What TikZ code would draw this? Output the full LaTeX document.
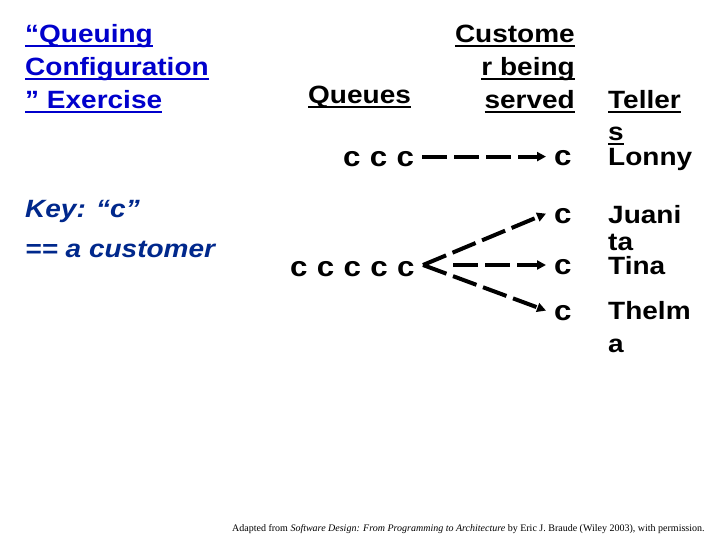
\documentclass[tikz,border=0pt]{standalone}
\usepackage{fontspec}
\setmainfont{Liberation Sans}[FakeStretch=1.12]
\newfontfamily\serifft{Liberation Serif}
\usetikzlibrary{arrows.meta}
\definecolor{titleblue}{RGB}{0,0,204}
\definecolor{keyblue}{RGB}{0,40,140}
\newsavebox\ulbox
\newcommand\ul[1]{\sbox\ulbox{#1}\rlap{\rule[-4.3pt]{\wd\ulbox}{2pt}}\usebox\ulbox}
\newcommand\cgap{\hspace{9.3pt}}
\tikzset{
  hd/.style={inner sep=0pt, anchor=base west, font=\fontsize{25}{30}\selectfont\bfseries},
  hdr/.style={hd, anchor=base east},
  ttl/.style={hd, text=titleblue},
  keyt/.style={hd, text=keyblue, font=\fontsize{25}{30}\selectfont\bfseries\itshape},
  cust/.style={inner sep=0pt, anchor=base west, font=\fontsize{28}{30}\selectfont\bfseries},
  arr/.style={line width=4pt, dash pattern=on 25pt off 7pt, -{Triangle[length=9pt,width=9pt]}},
}
\begin{document}
\begin{tikzpicture}[x=1pt,y=-1pt]
\useasboundingbox[fill=white] (0,0) rectangle (720,540);
% title
\node[ttl] (t1) at (25,43) {\ul{“Queuing}};
\node[ttl] (t2) at (25,76) {\ul{Configuration}};
\node[ttl] (t3) at (25,109) {\ul{” Exercise}};
% key
\node[keyt] (k1) at (25,218) {Key: “c”};
\node[keyt] (k2) at (25,257) {== a customer};
% headings
\node[hd] (qh) at (308,104) {\ul{Queues}};
\node[hdr] (ch1) at (575,43) {\ul{Custome}};
\node[hdr] (ch2) at (575,76) {\ul{r being}};
\node[hdr] (ch3) at (575,109) {\ul{served}};
\node[hd] (th1) at (608,109) {\ul{Teller}};
\node[hd] (th2) at (608,141) {\ul{s}};
% tellers
\node[hd] (n1) at (608,166) {Lonny};
\node[hd] (n2) at (608,224) {Juani};
\node[hd] (n3) at (608,250) {ta};
\node[hd] (n4) at (608,274) {Tina};
\node[hd] (n5) at (608,319) {Thelm};
\node[hd] (n6) at (608,352) {a};
% customers
\node[cust] (q1) at (343,167) {c\cgap c\cgap c};
\node[cust] (q2) at (290,276) {c\cgap c\cgap c\cgap c\cgap c};
\node[cust] (s1) at (554,166) {c};
\node[cust] (s2) at (554,224) {c};
\node[cust] (s3) at (554,274) {c};
\node[cust] (s4) at (554,320) {c};
% arrows
\coordinate (fan) at (423,265);
\draw[arr] ([xshift=8pt,yshift=3pt]q1.east) -- ([xshift=-8pt,yshift=2pt]s1.west);
\draw[arr] (fan) -- ([xshift=-8pt,yshift=3pt]s2.west);
\draw[arr] ([xshift=30pt]fan) -- ([xshift=-8pt]s3.west |- fan);
\draw[arr] (fan) -- ([xshift=-8pt,yshift=2pt]s4.west);
% footnote
\node[inner sep=0pt, anchor=base west, font=\serifft\fontsize{10}{12}\selectfont] (fn) at (232,531) {Adapted from \textit{Software Design: From Programming to Architecture} by Eric J. Braude (Wiley 2003), with permission.};
\end{tikzpicture}
\end{document}
